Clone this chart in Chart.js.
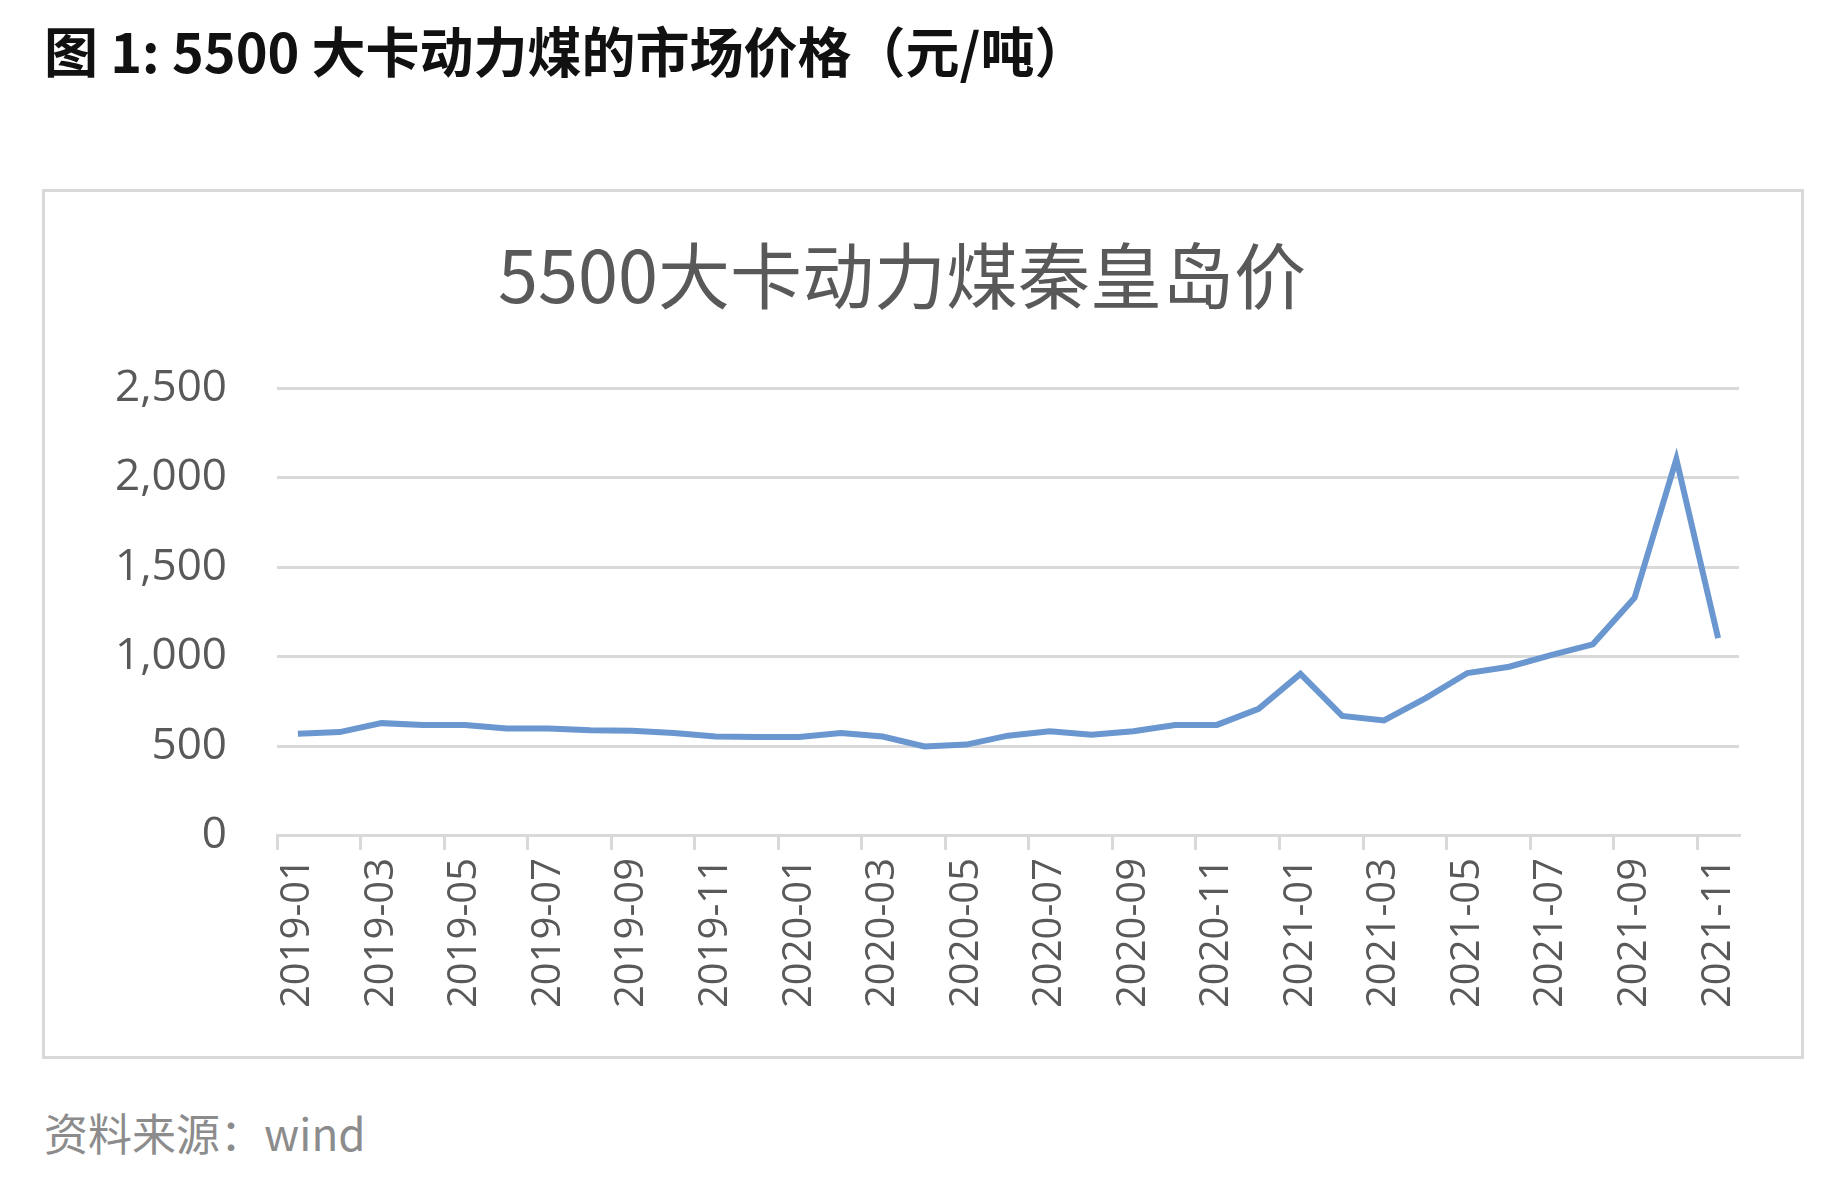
<!DOCTYPE html>
<html>
<head>
<meta charset="utf-8">
<script src="https://cdn.jsdelivr.net/npm/chart.js@4/dist/chart.umd.min.js"></script>
<style>
  body { margin:0; background:#fff; font-family:"Noto Sans CJK SC", sans-serif; }
  #head { position:absolute; left:44px; top:10px; font-size:54px; font-weight:bold; color:#111; }
  #box { position:absolute; left:42px; top:189px; width:1756px; height:864px; border:3px solid #d9d9d9; }
  #src { position:absolute; left:44px; top:1100px; font-size:44px; color:#8c8c8c; }
</style>
</head>
<body>
<div id="head">图 1: 5500 大卡动力煤的市场价格（元/吨）</div>
<div id="box"><canvas id="c"></canvas></div>
<div id="src">资料来源：wind</div>
<script>
const months = [];
for (let y = 2019; y <= 2021; y++) for (let m = 1; m <= 12; m++) {
  if (y === 2021 && m > 11) break;
  months.push(y + '-' + String(m).padStart(2, '0'));
}
const prices = [570,580,630,620,620,600,600,590,588,575,555,553,553,575,555,500,510,560,585,565,
                585,620,620,710,905,670,645,770,910,945,1010,1070,1330,2105,1105];
const yTicks = [0, 500, 1000, 1500, 2000, 2500];

new Chart(document.getElementById('c'), {
  type: 'line',
  data: { labels: months, datasets: [{ data: prices, borderColor: '#6a97cf', borderWidth: 6, pointRadius: 0, tension: 0 }] },
  options: {
    responsive: true, maintainAspectRatio: false, animation: false,
    layout: { padding: { left: 20, right: 62, top: 20, bottom: 40 } },
    plugins: {
      legend: { display: false },
      title: { display: true, text: '5500大卡动力煤秦皇岛价', color: '#595959',
               font: { size: 72, family: '"Noto Sans CJK SC"', weight: 'normal' }, padding: { top: 20, bottom: 70 } }
    },
    scales: {
      y: {
        min: 0, max: 2500,
        afterBuildTicks: a => { a.ticks = yTicks.map(v => ({ value: v })); },
        ticks: { color: '#595959', font: { size: 44, family: 'Open Sans' }, padding: 50,
                 callback: v => v.toLocaleString('en-US') },
        grid: { color: '#d9d9d9', lineWidth: 3, drawTicks: false },
        border: { display: false }
      },
      x: {
        offset: true,
        ticks: { autoSkip: false, maxRotation: 90, minRotation: 90, color: '#595959',
                 font: { size: 40, family: 'Open Sans' }, padding: 8,
                 callback: (v, i) => i % 2 === 0 ? months[i] : '' },
        grid: { drawOnChartArea: false, tickLength: 14, lineWidth: 3, offset: true,
                color: c => c.index % 2 === 0 ? '#d9d9d9' : 'rgba(0,0,0,0)' },
        border: { color: '#d9d9d9', width: 3 }
      }
    }
  }
});
</script>
</body>
</html>
